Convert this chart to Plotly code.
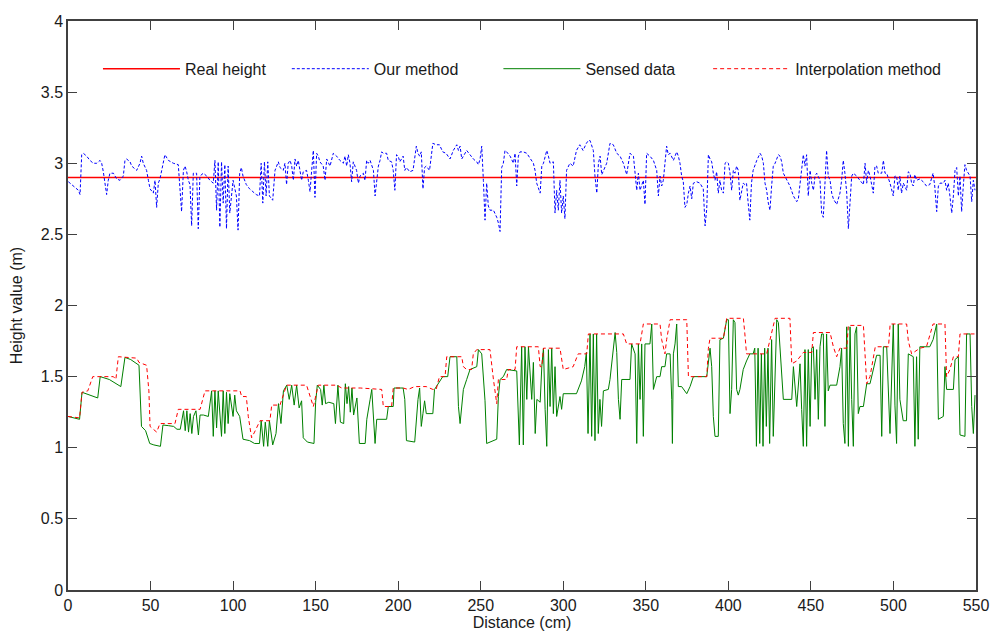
import plotly.graph_objects as go

# ---------------- data ----------------
real_height = 2.9
x_range = [0, 550]

our_x = [0.2, 3.2, 6.3, 7.3, 8.3, 9.3, 11.3, 13.3, 15.3, 17.4, 19.4, 20.4, 21.4, 23.4, 24.4, 25.4, 27.5, 29.5, 31.5, 33.5,
         34.5, 35.5, 37.6, 38.6, 41.6, 43.6, 44.6, 45.6, 47.6, 48.7, 49.7, 51.7, 52.7, 53.7, 54.7, 55.7, 57.7, 58.7, 60.8, 63.8,
         66.8, 68.8, 69.9, 70.9, 71.9, 72.9, 73.9, 74.9, 75.9, 77.9, 78.9, 79.9, 82, 84, 86, 88, 89, 90, 91, 92,
         93, 94, 95, 96, 97, 98, 100, 102, 103, 104, 105, 106, 108, 110, 112, 114, 116, 117, 118, 119,
         120, 121, 122, 124, 125.4, 126.4, 127.4, 128.4, 130.4, 131.4, 132.4, 133.4, 134.5, 135.5, 136.5, 137.5, 138.5, 139.5, 140.5, 141.5,
         142.5, 144.5, 145.6, 146.6, 147.6, 148.6, 149.6, 150.6, 151.6, 152.6, 154.6, 155.7, 156.7, 157.7, 158.7, 160.7, 162.7, 164.7, 166.8, 167.8,
         168.8, 169.8, 170.8, 171.8, 172.8, 173.8, 174.8, 175.9, 176.9, 178.9, 179.9, 180.9, 181.9, 183, 185, 186, 187, 188, 189, 190,
         191, 193, 194, 196, 197, 198, 199, 200, 201, 203, 204, 205, 207, 209, 211, 212, 213, 214, 215, 216,
         217, 219, 221, 223, 225, 227, 229, 231.4, 233.4, 235.5, 236.5, 237.5, 238.5, 241.5, 243.5, 245.5, 247.6, 248.6, 249.6, 250.6,
         251.6, 252.6, 253.6, 254.6, 255.6, 257.7, 259.7, 260.7, 261.7, 262.7, 263.7, 264.7, 265.7, 267.8, 269.8, 270.8, 271.8, 272.8, 273.8, 275.8,
         277.9, 280.9, 281.9, 282.9, 283.9, 286, 287, 288, 290, 291, 292, 294, 295, 296, 297, 298, 299, 300, 301, 302,
         304, 306, 308, 310, 312, 314, 315.2, 316.2, 318.2, 319.2, 320.3, 321.3, 322.3, 323.3, 324.3, 326.3, 328.3, 330.3, 332.4, 334.4,
         336.4, 338.4, 340.4, 342.5, 344.5, 345.5, 346.5, 348.5, 349.5, 350.5, 352.5, 354.6, 356.6, 357.6, 358.6, 359.6, 360.6, 362.6, 363.6, 364.7,
         366.7, 368.7, 369.7, 370.7, 371.7, 372.7, 373.7, 374.8, 375.8, 376.8, 377.8, 378.8, 380.8, 382.8, 384.8, 385.9, 386.9, 387.9, 388.9, 389.9,
         390.9, 391.9, 392.9, 393.9, 394.9, 395.9, 397, 398, 399, 400, 401, 402, 403, 404, 405, 406, 407, 408, 409, 410,
         411, 412, 413, 414, 415, 417.2, 419.2, 420.2, 421.2, 422.2, 423.2, 424.2, 425.2, 426.2, 427.2, 428.3, 430.3, 431.3, 432.3, 433.3,
         435.3, 437.3, 439.4, 441.4, 442.4, 443.4, 444.4, 445.4, 446.4, 447.4, 448.4, 449.5, 450.5, 451.5, 452.5, 453.5, 455.5, 456.5, 457.5, 458.5,
         459.5, 460.5, 461.6, 462.6, 463.6, 465.6, 467.6, 468.6, 469.6, 470.6, 471.7, 472.7, 473.7, 474.7, 475.7, 477.7, 479.7, 481.8, 482.8, 483.8,
         484.8, 485.8, 487.8, 488.8, 489.8, 490.8, 492.9, 493.9, 494.9, 495.9, 497.9, 499.9, 500.9, 501.9, 502.9, 503.9, 504.9, 506, 508, 509,
         510, 511, 512, 513, 514, 516, 518, 520, 522, 524, 525, 526.2, 527.2, 528.2, 530.2, 531.2, 532.2, 533.2, 534.2, 535.3,
         536.3, 537.3, 538.3, 539.3, 540.3, 541.3, 542.3, 543.3, 544.3, 545.3, 546.4, 547.4, 548.4, 549.4]
our_y = [2.87, 2.84, 2.81, 2.78, 3.06, 3.07, 3.05, 3.02, 3.00, 3.00, 3.02, 3.00, 2.94, 2.78, 2.88, 2.93, 2.93, 2.89, 2.88, 2.91,
         3.02, 3.03, 3.01, 2.98, 2.95, 3.00, 3.05, 3.00, 2.95, 2.88, 2.82, 2.79, 2.88, 2.69, 2.86, 2.89, 3.00, 3.06, 3.02, 3.00,
         2.99, 2.66, 2.95, 2.98, 2.94, 2.88, 2.85, 2.56, 2.93, 2.93, 2.54, 2.91, 2.93, 2.91, 2.88, 2.86, 3.02, 2.67, 3.01, 2.55,
         3.01, 2.72, 2.99, 2.54, 2.98, 2.65, 2.88, 2.77, 2.53, 2.93, 2.97, 2.91, 2.85, 2.82, 2.80, 2.78, 2.77, 3.00, 2.72, 3.01,
         2.77, 3.01, 2.77, 2.74, 2.95, 2.98, 3.01, 2.97, 2.95, 3.00, 2.85, 3.00, 3.02, 2.98, 2.88, 3.03, 2.98, 3.02, 2.93, 2.88,
         2.94, 2.95, 2.88, 2.80, 2.95, 3.09, 2.76, 3.07, 3.05, 3.01, 2.98, 2.88, 3.03, 3.00, 2.98, 3.07, 3.05, 3.02, 3.00, 3.05,
         2.98, 3.06, 3.00, 2.87, 3.01, 2.98, 2.95, 2.86, 2.91, 2.93, 2.88, 3.02, 3.00, 3.02, 2.95, 2.77, 2.88, 2.98, 3.02, 3.08,
         3.07, 3.07, 3.02, 3.01, 2.95, 2.81, 3.06, 3.05, 3.01, 3.05, 2.95, 2.97, 2.94, 2.95, 3.12, 3.07, 3.05, 3.08, 2.82, 2.97,
         2.98, 2.95, 3.14, 3.13, 3.13, 3.08, 3.07, 3.03, 3.09, 3.13, 3.09, 3.12, 3.03, 3.09, 3.06, 3.03, 3.01, 2.99, 3.03, 3.12,
         2.88, 2.60, 2.86, 2.70, 2.67, 2.67, 2.62, 2.58, 2.52, 2.97, 3.00, 3.09, 3.08, 3.05, 3.00, 3.07, 2.84, 3.05, 3.08, 3.08,
         3.07, 3.02, 3.00, 2.95, 2.86, 2.79, 2.98, 3.00, 3.09, 3.05, 3.00, 3.01, 2.65, 2.81, 2.67, 2.88, 2.65, 2.77, 2.61, 2.95,
         3.00, 2.98, 3.09, 3.13, 3.09, 3.14, 3.16, 3.16, 3.09, 2.91, 2.79, 3.00, 3.05, 2.92, 2.95, 3.00, 3.14, 3.13, 3.07, 3.05,
         3.00, 2.92, 3.07, 3.05, 2.81, 2.93, 2.81, 2.88, 2.71, 3.07, 3.05, 3.02, 2.95, 2.77, 2.91, 2.84, 2.88, 3.12, 3.06, 3.07,
         3.02, 3.08, 3.05, 3.00, 2.91, 2.87, 2.69, 2.71, 2.79, 2.84, 2.75, 2.86, 2.87, 2.86, 2.82, 2.56, 2.68, 3.06, 3.03, 3.01,
         2.93, 2.88, 2.94, 2.79, 2.88, 2.81, 2.79, 3.00, 3.01, 3.00, 2.93, 2.81, 2.95, 2.93, 2.98, 2.95, 2.74, 2.79, 2.86, 2.85,
         2.86, 2.72, 2.60, 2.86, 2.95, 3.02, 3.07, 3.05, 3.00, 2.86, 2.81, 2.72, 2.67, 2.84, 2.98, 3.00, 3.06, 3.05, 3.01, 2.93,
         2.89, 2.84, 2.77, 2.73, 2.75, 2.86, 2.95, 3.06, 2.98, 3.06, 2.77, 2.95, 2.86, 2.81, 2.91, 2.93, 2.88, 2.65, 2.62, 2.88,
         3.09, 2.91, 2.88, 2.79, 2.75, 2.71, 2.79, 2.88, 3.02, 2.93, 2.79, 2.54, 2.77, 2.91, 2.93, 2.91, 2.88, 2.85, 3.00, 2.86,
         2.95, 2.91, 2.79, 2.98, 2.98, 2.93, 2.93, 3.02, 2.93, 2.93, 2.86, 2.77, 2.91, 2.91, 2.81, 2.91, 2.79, 2.86, 2.81, 2.94,
         2.93, 2.86, 2.84, 2.92, 2.88, 2.89, 2.87, 2.84, 2.85, 2.93, 2.84, 2.66, 2.84, 2.86, 2.86, 2.88, 2.81, 2.86, 2.77, 2.65,
         2.77, 2.95, 2.97, 2.77, 2.91, 2.66, 2.84, 2.99, 2.95, 2.93, 2.91, 2.73, 2.88, 2.81]

sensed_x = [0, 4, 7, 8.5, 13, 18, 19.5, 25, 32, 34.5, 38, 43, 44.5, 47, 49.5, 52, 56, 57.5, 61, 64,
            66, 68, 70, 71, 72, 73, 74, 75, 76, 77.5, 79, 80, 82, 85, 87, 88, 89, 90, 91, 93,
            94, 95, 96, 97, 98, 100, 101, 102, 104, 106, 110, 113, 116, 117, 118.5, 119.5, 121, 122, 124, 126,
            127.5, 129, 130.5, 132.5, 134, 135.5, 137, 138.5, 140, 141.5, 142.5, 145, 149, 150, 151, 153, 154, 155, 156, 158,
            161, 162, 163.5, 165, 167, 168, 169, 170, 171, 172, 173, 175, 176.5, 180, 181, 182, 183, 184, 185, 185.5,
            186, 187, 193, 194, 197, 197.5, 203, 204, 205, 210, 211, 212, 213, 214, 215, 216, 217, 221, 222, 224,
            227, 230, 231.4, 235.5, 236.5, 237.5, 238.5, 239.5, 241.5, 243.5, 247.6, 248.6, 250.6, 251.6, 252.6, 253.6, 259.7, 260.7, 261.7, 263.7,
            265.7, 271.8, 273.4, 274.8, 275.8, 276.8, 277.9, 278.9, 280.9, 281.9, 283, 284, 286, 287, 288, 289, 290, 291, 292, 293,
            294, 295, 296, 298, 299, 300, 308, 311, 313, 314, 315, 316.2, 317.2, 318.2, 319.2, 320.2, 321.2, 322.2, 323.2, 324.3,
            327.3, 328.3, 330.3, 331.4, 332.4, 333.4, 334.4, 335.4, 340.4, 341.4, 343.5, 344.5, 345.5, 346.5, 347.5, 348.5, 349.5, 352.5, 353.6, 354.6,
            356.6, 358.6, 359.6, 361.6, 362.6, 364.7, 365.7, 366.1, 366.7, 367.7, 368.7, 369.7, 371.7, 374.8, 376.8, 378.8, 386.9, 388.9, 389.9, 390.9,
            391.9, 393.9, 394.9, 397, 399, 400, 401, 402, 403, 404, 405, 406, 407, 409, 411, 413, 415, 416, 417, 418,
            419, 420, 421, 422, 423, 424, 425, 426.2, 427.2, 428.3, 429.3, 430.3, 432.3, 433.3, 438.4, 439.4, 441.4, 443.4, 444.4, 445.4,
            446.4, 447.4, 448.4, 449.5, 450.5, 451.5, 452.5, 453.5, 454.5, 455.5, 456.5, 457.5, 458.5, 459.5, 460.5, 461.6, 465.6, 467.6, 468.6, 469.6,
            470.6, 471.7, 472.7, 473.7, 474.7, 475.7, 476.7, 477.7, 478.7, 479.7, 481.8, 483.8, 485.8, 487.8, 489.8, 491.9, 492.9, 493.9, 495.9, 497.9,
            499.9, 500.9, 501.9, 502.9, 503.9, 505.9, 507.9, 509, 512, 513, 514, 515, 516, 522, 524, 526.2, 527.2, 530.2, 531.2, 532.2,
            536.3, 537.3, 539.3, 540.3, 543.3, 544.3, 546.4, 547.4, 548.4, 549.4]
sensed_y = [1.22, 1.21, 1.20, 1.39, 1.37, 1.35, 1.50, 1.48, 1.43, 1.635, 1.62, 1.58, 1.15, 1.12, 1.03, 1.02, 1.01, 1.16, 1.155, 1.15,
            1.13, 1.13, 1.26, 1.12, 1.26, 1.11, 1.24, 1.10, 1.22, 1.26, 1.09, 1.23, 1.23, 1.22, 1.40, 1.08, 1.40, 1.14, 1.40, 1.08,
            1.40, 1.10, 1.39, 1.17, 1.38, 1.22, 1.37, 1.26, 1.22, 1.06, 1.05, 1.03, 1.03, 1.19, 1.01, 1.18, 1.01, 1.19, 1.02, 1.10,
            1.31, 1.17, 1.40, 1.44, 1.34, 1.44, 1.30, 1.44, 1.28, 1.33, 1.07, 1.04, 1.03, 1.32, 1.44, 1.41, 1.30, 1.44, 1.31, 1.32,
            1.31, 1.17, 1.44, 1.18, 1.17, 1.45, 1.31, 1.43, 1.25, 1.42, 1.23, 1.35, 1.03, 1.03, 1.20, 1.26, 1.34, 1.41, 1.22, 1.05,
            1.03, 1.20, 1.20, 1.29, 1.29, 1.42, 1.42, 1.34, 1.05, 1.04, 1.20, 1.34, 1.42, 1.15, 1.24, 1.33, 1.24, 1.24, 1.41, 1.45,
            1.50, 1.50, 1.64, 1.64, 1.29, 1.17, 1.29, 1.41, 1.48, 1.55, 1.57, 1.69, 1.66, 1.52, 1.33, 1.03, 1.06, 1.36, 1.48, 1.50,
            1.55, 1.54, 1.02, 1.71, 1.02, 1.71, 1.34, 1.71, 1.34, 1.60, 1.10, 1.34, 1.32, 1.57, 1.70, 1.27, 1.01, 1.69, 1.29, 1.70,
            1.24, 1.57, 1.22, 1.36, 1.27, 1.38, 1.38, 1.47, 1.57, 1.67, 1.10, 1.80, 1.08, 1.80, 1.05, 1.80, 1.10, 1.34, 1.15, 1.40,
            1.41, 1.48, 1.67, 1.81, 1.67, 1.34, 1.20, 1.48, 1.48, 1.73, 1.66, 1.03, 1.73, 1.34, 1.73, 1.08, 1.73, 1.73, 1.87, 1.41,
            1.50, 1.50, 1.57, 1.57, 1.66, 1.66, 1.34, 1.03, 1.66, 1.73, 1.87, 1.43, 1.43, 1.38, 1.43, 1.50, 1.50, 1.70, 1.57, 1.22,
            1.08, 1.08, 1.76, 1.77, 1.90, 1.90, 1.24, 1.41, 1.90, 1.88, 1.41, 1.37, 1.41, 1.55, 1.61, 1.66, 1.66, 1.70, 1.01, 1.70,
            1.03, 1.66, 1.01, 1.70, 1.15, 1.70, 1.03, 1.76, 1.08, 1.57, 1.90, 1.88, 1.50, 1.34, 1.34, 1.57, 1.29, 1.59, 1.27, 1.01,
            1.69, 1.01, 1.69, 1.15, 1.70, 1.71, 1.34, 1.69, 1.20, 1.71, 1.80, 1.80, 1.15, 1.80, 1.40, 1.44, 1.44, 1.57, 1.70, 1.17,
            1.03, 1.85, 1.01, 1.85, 1.34, 1.01, 1.80, 1.85, 1.24, 1.29, 1.29, 1.45, 1.45, 1.55, 1.65, 1.65, 1.08, 1.71, 1.71, 1.10,
            1.87, 1.30, 1.03, 1.87, 1.34, 1.19, 1.19, 1.66, 1.64, 1.01, 1.64, 1.06, 1.71, 1.71, 1.76, 1.87, 1.20, 1.22, 1.57, 1.41,
            1.41, 1.62, 1.64, 1.09, 1.08, 1.80, 1.80, 1.29, 1.10, 1.37]

interp_x = [0, 7, 8.5, 12, 15, 27.5, 29, 30.5, 41.6, 43, 47.6, 49, 49.7, 52, 53.7, 55.7, 64.8, 66.8, 80, 83,
            104.2, 105.2, 108, 109.2, 111.2, 113, 116.3, 122.3, 123.4, 128.4, 132.4, 144.5, 146.5, 148.6, 151.6, 162.7, 165.8, 177, 190, 191,
            196, 197, 203, 206, 210, 217, 221, 223, 225, 228.4, 229.4, 238.5, 239.5, 241.5, 244.5, 245.5, 247.6, 255.6, 257.7, 259.7,
            260.7, 265.7, 266.7, 270.8, 271.8, 284.9, 286, 287, 288, 298, 300, 306, 309, 314.2, 315.2, 332.4, 336.4, 338.4, 346.5, 348.5,
            358.6, 359.6, 361.6, 362.6, 364.7, 374.8, 375.8, 386.9, 387.9, 388.9, 397, 399, 409.1, 410, 411, 423.2, 425.2, 428.3, 437.3, 438.4,
            441.4, 445.4, 450.5, 451.5, 461.6, 463.6, 465.6, 467.6, 471.7, 472.7, 481.8, 483.8, 485.8, 489, 497, 498, 508, 509, 511, 516,
            520, 524, 531.2, 532.2, 534.2, 536.3, 539.3, 540.3, 549.4]
interp_y = [1.22, 1.21, 1.39, 1.40, 1.50, 1.50, 1.48, 1.64, 1.63, 1.60, 1.58, 1.40, 1.15, 1.13, 1.11, 1.17, 1.17, 1.27, 1.27, 1.40,
            1.40, 1.36, 1.36, 1.22, 1.07, 1.11, 1.19, 1.19, 1.30, 1.30, 1.44, 1.44, 1.36, 1.29, 1.44, 1.44, 1.42, 1.42, 1.41, 1.29,
            1.29, 1.42, 1.42, 1.41, 1.43, 1.43, 1.41, 1.41, 1.50, 1.50, 1.64, 1.64, 1.57, 1.55, 1.55, 1.66, 1.69, 1.69, 1.48, 1.31,
            1.48, 1.48, 1.55, 1.55, 1.71, 1.71, 1.57, 1.57, 1.70, 1.70, 1.55, 1.57, 1.66, 1.66, 1.80, 1.80, 1.80, 1.73, 1.73, 1.87,
            1.87, 1.76, 1.66, 1.76, 1.90, 1.90, 1.50, 1.50, 1.70, 1.77, 1.77, 1.91, 1.91, 1.80, 1.66, 1.66, 1.76, 1.91, 1.91, 1.59,
            1.61, 1.67, 1.67, 1.81, 1.81, 1.71, 1.64, 1.70, 1.70, 1.86, 1.86, 1.45, 1.50, 1.71, 1.71, 1.87, 1.87, 1.75, 1.66, 1.70,
            1.71, 1.87, 1.87, 1.50, 1.55, 1.64, 1.64, 1.80, 1.80]

x_ticks = [0, 50, 100, 150, 200, 250, 300, 350, 400, 450, 500, 550]
y_ticks = [0, 0.5, 1, 1.5, 2, 2.5, 3, 3.5, 4]

# ---------------- figure ----------------
FONT = "Arial, Liberation Sans, sans-serif"
TXT = "#1a1a1a"
FS = 16
fig = go.Figure()
fig.add_trace(go.Scatter(x=x_range, y=[real_height, real_height], mode="lines", name="Real height",
                         legend="legend", line=dict(color="#ff0000", width=1.5)))
fig.add_trace(go.Scatter(x=our_x, y=our_y, mode="lines", name="Our method",
                         legend="legend2", line=dict(color="#0000ff", width=1, dash="3px,2px")))
fig.add_trace(go.Scatter(x=sensed_x, y=sensed_y, mode="lines", name="Sensed data",
                         legend="legend3", line=dict(color="#008000", width=1)))
fig.add_trace(go.Scatter(x=interp_x, y=interp_y, mode="lines", name="Interpolation method",
                         legend="legend4", line=dict(color="#ff0000", width=1, dash="4px,3px")))

axis_common = dict(showline=True, linecolor="#404040", linewidth=1.5, mirror="ticks",
                   ticks="inside", ticklen=9, tickcolor="#404040", showgrid=False, zeroline=False,
                   automargin=False, tickfont=dict(family=FONT, size=FS, color=TXT))
fig.update_xaxes(range=[0, 550], tickvals=x_ticks, title=dict(text="Distance (cm)", standoff=0,
                 font=dict(family=FONT, size=FS, color=TXT)), **axis_common)
fig.update_yaxes(range=[0, 4], tickvals=y_ticks, title=dict(text="Height value (m)", standoff=14,
                 font=dict(family=FONT, size=FS, color=TXT)), **axis_common)


def legend_box(xpos):
    return dict(orientation="h", x=xpos, y=0.916, xanchor="left", yanchor="middle",
                bgcolor="rgba(0,0,0,0)", itemwidth=77,
                font=dict(family=FONT, size=FS, color=TXT))


fig.update_layout(
    width=990, height=633,
    margin=dict(l=68, r=14, t=21, b=43),
    paper_bgcolor="white", plot_bgcolor="white",
    font=dict(family=FONT, size=FS, color=TXT),
    showlegend=True,
    legend=legend_box(0.033),
    legend2=legend_box(0.241),
    legend3=legend_box(0.474),
    legend4=legend_box(0.705),
)

fig.write_html("out.html", post_script="document.body.style.margin='0px';",
               config={"displayModeBar": False})
